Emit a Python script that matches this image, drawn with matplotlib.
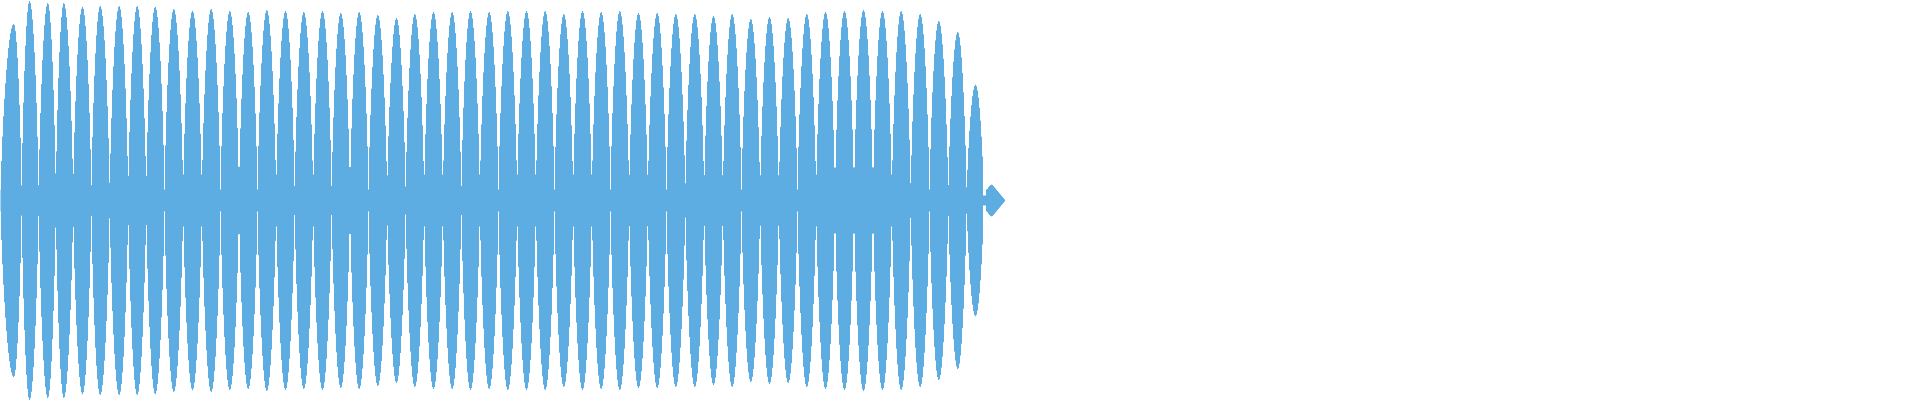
import numpy as np
import matplotlib
matplotlib.use("Agg")
import matplotlib.pyplot as plt

# waveform lobes: centre of each lobe (pixel column) and its peak amplitude (fraction of full scale)
peak_x = [13.3, 29, 47.3, 63.3, 82, 99.7, 118.7, 136.7, 154.7, 173.3,
          192, 210.7, 229.3, 247.7, 266.3, 285, 303.3, 322, 340.3, 358.7,
          377.3, 396, 414.3, 433, 451.7, 470, 488.7, 507.3, 526, 544.7,
          563.3, 582, 600.7, 619.3, 638, 656.7, 675.3, 694.3, 713, 731.7,
          750.3, 769, 787.7, 806.3, 825, 844, 863, 882, 900.7, 919.7,
          938.3, 957.3, 975, 991.7]
peak_amp = [0.885, 1.0, 0.99, 0.99, 0.971, 0.975, 0.975, 0.975, 0.971, 0.96,
            0.951, 0.96, 0.95, 0.945, 0.955, 0.95, 0.945, 0.95, 0.94, 0.945,
            0.93, 0.915, 0.935, 0.945, 0.945, 0.95, 0.945, 0.95, 0.95, 0.95,
            0.935, 0.95, 0.945, 0.95, 0.94, 0.94, 0.935, 0.935, 0.925, 0.935,
            0.91, 0.92, 0.915, 0.935, 0.945, 0.95, 0.955, 0.95, 0.95, 0.935,
            0.9, 0.845, 0.58, 0.08]
end_x = 1005
band = 0.055

px = np.array(peak_x)
pa = np.array(peak_amp)
xs = np.arange(0, end_x + 1)
bounds = np.concatenate([[0], (px[:-1] + px[1:]) / 2, [end_x]])

env = np.full(xs.shape, band)
for i in range(len(px)):
    lo, c, hi = bounds[i], px[i], bounds[i + 1]
    left = (xs >= lo) & (xs <= c)
    right = (xs > c) & (xs <= hi)
    env[left] = np.maximum(env[left], pa[i] * np.sin(np.pi / 2 * (xs[left] - lo) / (c - lo)) ** 0.7)
    env[right] = np.maximum(env[right], pa[i] * np.sin(np.pi / 2 * (hi - xs[right]) / (hi - c)) ** 0.7)

# taper the tail and the thin neck before the last small lobe
env[(xs > bounds[-2] - 1) & (xs < bounds[-2] + 2)] = 0.025
tail = xs > px[-1]
env[tail] = pa[-1] * (end_x - xs[tail]) / (end_x - px[-1])

fig = plt.figure(figsize=(19.2, 4), dpi=100)
ax = fig.add_axes([0, 0, 1, 1])
ax.fill_between(xs, -env, env, step="mid", color="#5dade2", linewidth=0)
ax.set_xlim(0, 1920)
ax.set_ylim(-1.0025, 1.0025)
ax.axis("off")
fig.savefig("out.png", dpi=100)
